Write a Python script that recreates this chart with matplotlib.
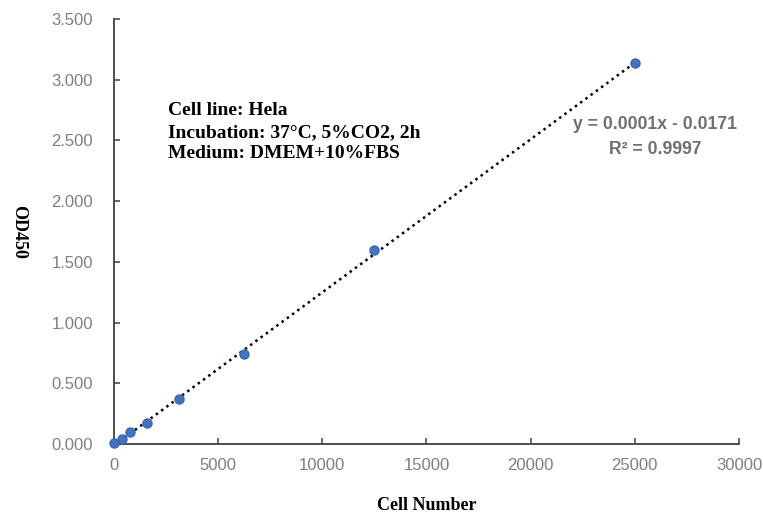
import numpy as np
import matplotlib.pyplot as plt

# cell number vs OD450
cell_number = [0, 391, 781, 1563, 3125, 6250, 12500, 25000]
od450 = [0.010, 0.040, 0.095, 0.175, 0.370, 0.740, 1.595, 3.135]

x_ticks = [0, 5000, 10000, 15000, 20000, 25000, 30000]
y_ticks = [0.0, 0.5, 1.0, 1.5, 2.0, 2.5, 3.0, 3.5]

info_lines = ["Cell line: Hela", "Incubation: 37\u00b0C, 5%CO2, 2h", "Medium: DMEM+10%FBS"]
equation = "y = 0.0001x - 0.0171"
r_squared = "R\u00b2 = 0.9997"


def main() -> None:
    fig = plt.figure(figsize=(7.63, 5.16), dpi=100)
    ax = fig.add_axes([0.1494, 0.1395, 0.8191, 0.8237])

    # linear trendline
    slope, intercept = np.polyfit(cell_number, od450, 1)
    xs = np.array([cell_number[0], cell_number[-1]])
    ax.plot(xs, slope * xs + intercept, color="black", linestyle=(0, (1, 1.6)),
            linewidth=1.8, zorder=2)
    ax.plot(cell_number, od450, "o", color="#4472C4", markeredgecolor="#3C66B0",
            markersize=6.5, zorder=3, clip_on=False)

    ax.set_xlim(0, 30000)
    ax.set_ylim(0, 3.5)
    ax.set_xticks(x_ticks)
    ax.set_yticks(y_ticks)
    ax.set_xticklabels([str(v) for v in x_ticks])
    ax.set_yticklabels([f"{v:.3f}" for v in y_ticks])

    for side in ("top", "right"):
        ax.spines[side].set_visible(False)
    for side in ("left", "bottom"):
        ax.spines[side].set_color("#404040")
        ax.spines[side].set_linewidth(1.3)

    ax.tick_params(axis="both", direction="in", length=4, width=1.1, color="#404040",
                   labelcolor="#7f7f7f", labelsize=12)
    ax.tick_params(axis="y", pad=15)
    ax.tick_params(axis="x", pad=10)
    for lbl in ax.get_xticklabels() + ax.get_yticklabels():
        lbl.set_family("Liberation Sans")

    ax.set_xlabel("Cell Number", family="Liberation Serif", fontweight="bold",
                  fontsize=13, labelpad=17)
    ax.set_ylabel("OD450", family="Liberation Serif", fontweight="bold",
                  fontsize=13, rotation=270, va="center")
    ax.yaxis.set_label_coords(-0.152, 0.5)

    ax.text(0.0865, 0.804, "\n".join(info_lines), transform=ax.transAxes,
            family="Liberation Serif", fontweight="bold", fontsize=14,
            va="top", ha="left", linespacing=1.35)

    ax.text(0.866, 0.722, equation + "\n" + r_squared, transform=ax.transAxes,
            family="Liberation Sans", fontweight="bold", fontsize=12.7,
            color="#6f6f6f", ha="center", va="center", multialignment="center",
            linespacing=1.6)

    fig.savefig("out.png", dpi=100)
    plt.close(fig)


if __name__ == "__main__":
    main()
